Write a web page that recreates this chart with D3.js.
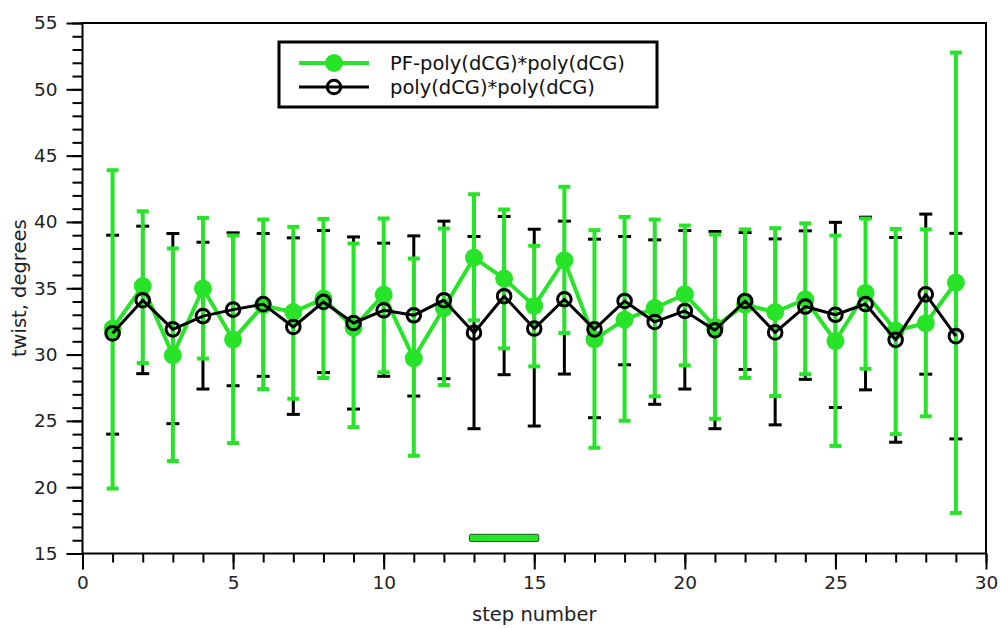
<!DOCTYPE html>
<html>
<head>
<meta charset="utf-8">
<script src="https://cdn.jsdelivr.net/npm/d3@7"></script>
<style>
  html, body { margin: 0; padding: 0; background: #fff; }
  svg { display: block; font-family: "DejaVu Sans", sans-serif; }
</style>
</head>
<body>
<svg id="chart" width="1000" height="628"></svg>
<script>
// ---- data ----
const steps = [1,2,3,4,5,6,7,8,9,10,11,12,13,14,15,16,17,18,19,20,21,22,23,24,25,26,27,28,29];

const pfMean = [31.96,35.17,29.94,34.98,31.13,33.7,33.2,34.22,32.03,34.52,29.72,33.51,37.31,35.73,33.67,37.11,31.15,32.63,33.51,34.55,32.1,33.76,33.2,34.17,31.02,34.65,31.81,32.36,35.43];
const pfLow  = [19.9,29.36,21.97,29.7,23.33,27.4,26.67,28.23,24.53,28.66,22.37,27.7,32.58,30.47,29.11,31.63,22.97,25.01,26.85,29.19,25.16,28.24,26.87,28.52,23.11,28.93,24.0,25.34,18.06];
const pfHigh = [43.9,40.8,38.0,40.3,38.98,40.18,39.63,40.23,38.37,40.26,37.24,39.5,42.09,40.94,38.2,42.65,39.38,40.38,40.18,39.73,39.05,39.44,39.53,39.89,38.97,40.25,39.47,39.44,52.77];

const refMean = [31.6,34.1,31.9,32.9,33.39,33.8,32.08,33.97,32.38,33.34,32.96,34.1,31.65,34.4,31.96,34.17,31.9,34.04,32.46,33.29,31.83,34.04,31.67,33.62,33.0,33.81,31.11,34.54,31.39];
const refLow  = [24.0,28.56,24.79,27.4,27.65,28.36,25.49,28.64,25.89,28.36,26.87,28.18,24.41,28.48,24.61,28.53,25.24,29.23,26.25,27.4,24.41,28.88,24.7,28.13,26.01,27.34,23.39,28.52,23.64];
const refHigh = [39.0,39.68,39.13,38.47,39.18,39.13,38.8,39.35,38.87,38.4,38.95,40.06,38.9,40.41,39.45,40.06,38.7,38.9,38.65,39.35,39.28,39.2,38.72,39.33,39.97,40.36,38.83,40.59,39.14];

const seriesNames = ["PF-poly(dCG)*poly(dCG)", "poly(dCG)*poly(dCG)"];
const xTickLabels = [0,5,10,15,20,25,30];
const yTickLabels = [15,20,25,30,35,40,45,50,55];
const xMinorTicks = d3.range(0, 31, 1);
const yMinorTicks = d3.range(15, 56, 1);
// highlighted region bar [x0, x1, y0, y1]
const regionBar = [12.85, 15.15, 15.9, 16.45];

const GREEN = "#28e428";

// ---- layout ----
const svg = d3.select("#chart");
const x = d3.scaleLinear().domain([0, 30]).range([82.5, 986]);
const y = d3.scaleLinear().domain([15, 55]).range([553.5, 23]);

// frame
svg.append("rect")
  .attr("x", x(0)).attr("y", y(55))
  .attr("width", x(30) - x(0)).attr("height", y(15) - y(55))
  .attr("fill", "none").attr("stroke", "#000").attr("stroke-width", 2);

// axes
function styleAxis(g) {
  g.select(".domain").remove();
  g.selectAll(".tick line").attr("stroke", "#000").attr("stroke-width", 2);
  g.selectAll(".tick text").attr("fill", "#222").style("font-family", "DejaVu Sans").style("font-size", "18.5px");
}
svg.append("g").attr("transform", `translate(0,${y(15)})`)
  .call(d3.axisBottom(x).tickValues(xMinorTicks).tickSize(9).tickFormat(""))
  .call(styleAxis);
svg.append("g").attr("transform", `translate(0,${y(15)})`)
  .call(d3.axisBottom(x).tickValues(xTickLabels).tickSize(16).tickPadding(6).tickFormat(d3.format("d")))
  .call(styleAxis);
svg.append("g").attr("transform", `translate(${x(0)},0)`)
  .call(d3.axisLeft(y).tickValues(yMinorTicks).tickSize(10).tickFormat(""))
  .call(styleAxis);
svg.append("g").attr("transform", `translate(${x(0)},0)`)
  .call(d3.axisLeft(y).tickValues(yTickLabels).tickSize(16).tickPadding(9).tickFormat(d3.format("d")))
  .call(styleAxis);

// axis titles
svg.append("text")
  .attr("x", (x(0) + x(30)) / 2).attr("y", 621)
  .attr("text-anchor", "middle").attr("fill", "#222")
  .style("font-size", "19.5px").text("step number");
svg.append("text")
  .attr("transform", `translate(26,${(y(15) + y(55)) / 2}) rotate(-90)`)
  .attr("text-anchor", "middle").attr("fill", "#222")
  .style("font-size", "19.5px").text("twist, degrees");

// region bar
svg.append("rect")
  .attr("x", x(regionBar[0])).attr("y", y(regionBar[3]))
  .attr("width", x(regionBar[1]) - x(regionBar[0]))
  .attr("height", y(regionBar[2]) - y(regionBar[3]))
  .attr("rx", 1.5)
  .attr("fill", GREEN).attr("stroke", "#225522").attr("stroke-width", 1);

// data records
const pf = steps.map((s, i) => ({ s, m: pfMean[i], lo: pfLow[i], hi: pfHigh[i] }));
const ref = steps.map((s, i) => ({ s, m: refMean[i], lo: refLow[i], hi: refHigh[i] }));

function errorBars(data, color, width, cap) {
  const g = svg.append("g").attr("stroke", color).attr("stroke-width", width).attr("fill", "none");
  g.selectAll("line.v").data(data).join("line").attr("class", "v")
    .attr("x1", d => x(d.s)).attr("x2", d => x(d.s))
    .attr("y1", d => y(d.lo)).attr("y2", d => y(d.hi));
  g.selectAll("line.t").data(data).join("line").attr("class", "t")
    .attr("x1", d => x(d.s) - cap).attr("x2", d => x(d.s) + cap)
    .attr("y1", d => y(d.hi)).attr("y2", d => y(d.hi));
  g.selectAll("line.b").data(data).join("line").attr("class", "b")
    .attr("x1", d => x(d.s) - cap).attr("x2", d => x(d.s) + cap)
    .attr("y1", d => y(d.lo)).attr("y2", d => y(d.lo));
}

const line = d3.line().x(d => x(d.s)).y(d => y(d.m));

errorBars(ref, "#000", 3, 6.5);
errorBars(pf, GREEN, 4, 6);

svg.append("path").datum(pf).attr("d", line)
  .attr("fill", "none").attr("stroke", GREEN).attr("stroke-width", 4).attr("stroke-linejoin", "round");
svg.append("g").selectAll("circle").data(pf).join("circle")
  .attr("cx", d => x(d.s)).attr("cy", d => y(d.m)).attr("r", 9)
  .attr("fill", GREEN);

svg.append("path").datum(ref).attr("d", line)
  .attr("fill", "none").attr("stroke", "#000").attr("stroke-width", 3).attr("stroke-linejoin", "round");
svg.append("g").selectAll("circle").data(ref).join("circle")
  .attr("cx", d => x(d.s)).attr("cy", d => y(d.m)).attr("r", 6.8)
  .attr("fill", "none").attr("stroke", "#000").attr("stroke-width", 3);

// legend
const lg = svg.append("g");
lg.append("rect").attr("x", 279).attr("y", 42).attr("width", 378).attr("height", 65)
  .attr("fill", "#fff").attr("stroke", "#000").attr("stroke-width", 3);
const legendItems = [
  { name: seriesNames[0], color: GREEN, y: 63, filled: true },
  { name: seriesNames[1], color: "#000", y: 87, filled: false }
];
legendItems.forEach(it => {
  lg.append("line").attr("x1", 299).attr("x2", 369).attr("y1", it.y).attr("y2", it.y)
    .attr("stroke", it.color).attr("stroke-width", it.filled ? 4 : 3);
  if (it.filled) {
    lg.append("circle").attr("cx", 334).attr("cy", it.y).attr("r", 9).attr("fill", it.color);
  } else {
    lg.append("circle").attr("cx", 334).attr("cy", it.y).attr("r", 6.8)
      .attr("fill", "none").attr("stroke", it.color).attr("stroke-width", 3);
  }
  lg.append("text").attr("x", 390).attr("y", it.y + 7).attr("fill", "#111")
    .style("font-size", "19.5px").text(it.name);
});
</script>
</body>
</html>
